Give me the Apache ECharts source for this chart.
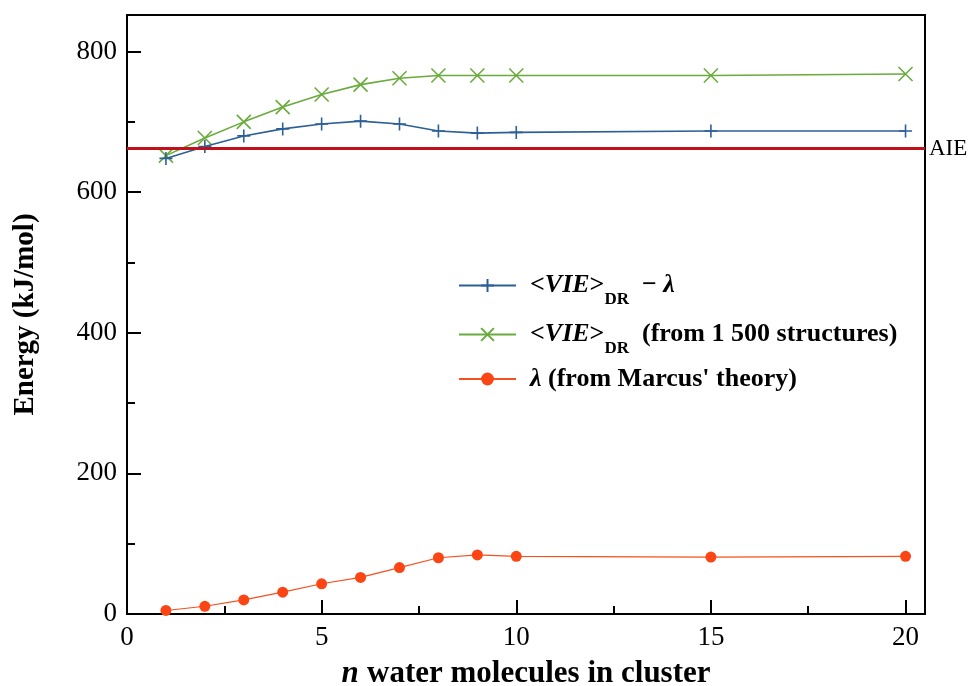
<!DOCTYPE html>
<html>
<head>
<meta charset="utf-8">
<script src="https://cdn.jsdelivr.net/npm/echarts@6/dist/echarts.min.js"></script>
<style>html,body{margin:0;padding:0;background:#fff;}#c{width:969px;height:686px;}</style>
</head>
<body>
<div id="c"></div>
<script>
var nValues = [1, 2, 3, 4, 5, 6, 7, 8, 9, 10, 15, 20];
var vieMinusLambda = [648, 665, 680, 690, 697, 701, 697, 687, 684, 685, 687, 687];
var vieDR = [652, 677, 700, 721, 739, 753, 762, 766, 766, 766, 766, 768];
var lambdaMarcus = [5, 11, 20, 31, 43, 52, 66, 80, 84, 82, 81, 82];
var aieValue = 662;
var xTicks = [0, 5, 10, 15, 20];
var yTicks = [0, 200, 400, 600, 800];

function pairs(ys) { return nValues.map(function (n, i) { return [n, ys[i]]; }); }

var serif = '"Liberation Serif", "DejaVu Serif", serif';
var chart = echarts.init(document.getElementById('c'));
var plusPath = 'path://M5,0 L5,10 M0,5 L10,5';
var crossPath = 'path://M0,0 L10,10 M10,0 L0,10';

var richBase = { fontFamily: serif, fontWeight: 'bold', fontSize: 26, color: '#000' };
function rs(extra) { var o = {}; for (var k in richBase) o[k] = richBase[k]; for (var k2 in extra) o[k2] = extra[k2]; return o; }

chart.setOption({
  animation: false,
  backgroundColor: '#fff',
  grid: { left: 127, top: 15, right: 44, bottom: 72, containLabel: false, outerBoundsMode: 'none',
    show: true, borderColor: '#000', borderWidth: 2, backgroundColor: 'transparent' },
  xAxis: {
    type: 'value', min: 0, max: 20.5, interval: 5,
    name: '{i|n} {b|water molecules in cluster}',
    nameLocation: 'middle', nameGap: 44,
    nameTextStyle: { rich: {
      i: { fontFamily: serif, fontWeight: 'bold', fontStyle: 'italic', fontSize: 31, color: '#000', padding: [0, 5, 0, 0] },
      b: { fontFamily: serif, fontWeight: 'bold', fontSize: 31, color: '#000' } } },
    axisLine: { show: true, lineStyle: { color: '#000', width: 2 } },
    axisTick: { show: true, inside: true, length: 14, lineStyle: { color: '#000', width: 2 } },
    minorTick: { show: true, splitNumber: 2, length: 8, lineStyle: { color: '#000', width: 2 } },
    splitLine: { show: false },
    axisLabel: { fontFamily: serif, fontSize: 27, color: '#000', margin: 10,
      formatter: function (v) { return xTicks.indexOf(v) >= 0 ? String(v) : ''; } }
  },
  yAxis: {
    type: 'value', min: 0, max: 852, interval: 200,
    name: 'Energy (kJ/mol)',
    nameLocation: 'middle', nameGap: 87,
    nameTextStyle: { fontFamily: serif, fontWeight: 'bold', fontSize: 29, color: '#000' },
    axisLine: { show: true, lineStyle: { color: '#000', width: 2 } },
    axisTick: { show: true, inside: true, length: 14, lineStyle: { color: '#000', width: 2 } },
    minorTick: { show: true, splitNumber: 2, length: 8, lineStyle: { color: '#000', width: 2 } },
    splitLine: { show: false },
    axisLabel: { fontFamily: serif, fontSize: 27, color: '#000', margin: 10,
      formatter: function (v) { return yTicks.indexOf(v) >= 0 ? String(v) : ''; } }
  },
  legend: {
    orient: 'vertical', left: 453, top: 258, itemWidth: 57, itemHeight: 16, itemGap: 4,
    textStyle: { rich: {
      bL: rs({ lineHeight: 26, verticalAlign: 'middle', padding: [0, 0, 0, 9] }),
      b: rs({ lineHeight: 26, verticalAlign: 'middle' }),
      bi: rs({ fontStyle: 'italic', lineHeight: 26, verticalAlign: 'middle' }),
      biL: rs({ fontStyle: 'italic', lineHeight: 26, verticalAlign: 'middle', padding: [5, 0, 5, 9] }),
      sub: rs({ fontSize: 17, lineHeight: 18, padding: [28, 0, 0, 0], verticalAlign: 'middle' }),
      pad: rs({ lineHeight: 26, verticalAlign: 'middle', padding: [5, 0, 5, 0] })
    } },
    formatter: function (name) {
      if (name === 'a') return '{bL|<}{bi|VIE}{b|>}{sub|DR}{b|  − }{bi|λ}';
      if (name === 'b') return '{bL|<}{bi|VIE}{b|>}{sub|DR}{b|  (from 1 500 structures)}';
      return '{biL|λ}{pad| (from Marcus\' theory)}';
    },
    data: ['a', 'b', 'c']
  },
  series: [
    {
      name: 'a', type: 'line', data: pairs(vieMinusLambda),
      symbol: plusPath, symbolSize: 13, showSymbol: true,
      lineStyle: { color: '#2d5f97', width: 1.6 },
      itemStyle: { color: 'rgba(0,0,0,0)', borderColor: '#2d5f97', borderWidth: 1.6 },
      z: 4,
      markLine: {
        silent: true, symbol: 'none',
        lineStyle: { color: '#c0101c', width: 3, type: 'solid' },
        label: { show: true, position: 'end', formatter: 'AIE', fontFamily: serif, fontSize: 23, color: '#000', distance: 4 },
        data: [{ yAxis: aieValue }]
      }
    },
    {
      name: 'b', type: 'line', data: pairs(vieDR),
      symbol: crossPath, symbolSize: 14, showSymbol: true,
      lineStyle: { color: '#6aab3e', width: 1.6 },
      itemStyle: { color: 'rgba(0,0,0,0)', borderColor: '#6aab3e', borderWidth: 1.6 },
      z: 3
    },
    {
      name: 'c', type: 'line', data: pairs(lambdaMarcus),
      symbol: 'circle', symbolSize: 11, showSymbol: true,
      lineStyle: { color: '#f5501f', width: 1.2 },
      itemStyle: { color: '#fc4514', borderWidth: 0 },
      z: 3
    }
  ]
});
</script>
</body>
</html>
